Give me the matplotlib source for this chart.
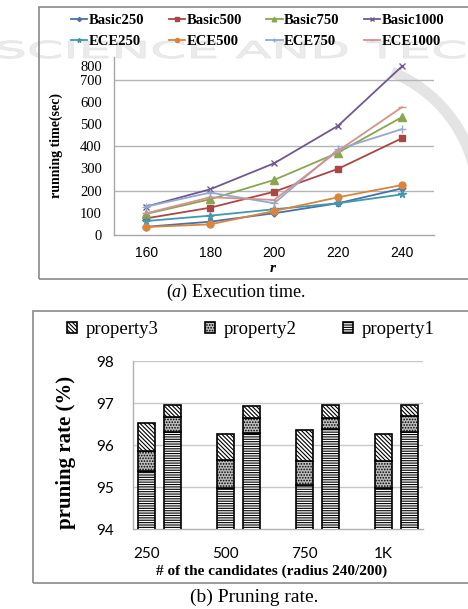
import numpy as np
import matplotlib
matplotlib.use("Agg")
import matplotlib.pyplot as plt
from matplotlib.patches import Rectangle, PathPatch, Arc
from matplotlib.textpath import TextPath
from matplotlib.font_manager import FontProperties
import matplotlib.transforms as mtransforms

plt.rcParams['mathtext.fontset'] = 'custom'
plt.rcParams['mathtext.rm'] = 'Liberation Serif'
plt.rcParams['mathtext.it'] = 'Liberation Serif:italic'
plt.rcParams['hatch.linewidth'] = 0.8

# ---------------- data: (a) execution time ----------------
r_values = [160, 180, 200, 220, 240]
basic250 = [37, 60, 98, 143, 210]
basic500 = [75, 123, 195, 298, 436]
basic750 = [95, 161, 248, 371, 531]
basic1000 = [128, 206, 323, 492, 760]
ece250 = [63, 87, 116, 143, 183]
ece500 = [36, 48, 108, 170, 225]
ece750 = [128, 191, 143, 386, 477]
ece1000 = [98, 170, 158, 379, 576]
series_names = ['Basic250', 'Basic500', 'Basic750', 'Basic1000',
                'ECE250', 'ECE500', 'ECE750', 'ECE1000']
time_yticks = [0, 100, 200, 300, 400, 500, 600, 700, 800]
time_grid = [200, 400, 700]

# ---------------- data: (b) pruning rate ----------------
candidates = ['250', '500', '750', '1K']
p1_r240 = [95.39, 94.98, 95.05, 94.98]
p2_r240 = [0.46, 0.67, 0.57, 0.64]
p3_r240 = [0.68, 0.62, 0.74, 0.65]
p1_r200 = [96.31, 96.30, 96.39, 96.32]
p2_r200 = [0.35, 0.34, 0.26, 0.37]
p3_r200 = [0.30, 0.28, 0.31, 0.27]
prune_yticks = [94, 95, 96, 97, 98]

W, H = 468, 609
fig = plt.figure(figsize=(W / 100, H / 100), dpi=100)
px = mtransforms.Affine2D().scale(1 / W, -1 / H).translate(0, 1) + fig.transFigure


def rect(l, t, r, b):
    return [l / W, 1 - b / H, (r - l) / W, (b - t) / H]


def ftext(x, y, s, **kw):
    kw.setdefault('ha', 'center')
    kw.setdefault('va', 'center')
    fig.text(x / W, 1 - y / H, s, **kw)


# faint background watermark of the source page
wm_prop = FontProperties(family='DejaVu Sans')
wm_full = TextPath((0, 0), 'SCIENCE AND TECHNOLOGY', size=10, prop=wm_prop)
wm_pre = TextPath((0, 0), 'SCIENCE AND ', size=10, prop=wm_prop)
cap = TextPath((0, 0), 'E', size=10, prop=wm_prop).get_extents().height
x0, t_start = -6.0, 347.0
sx = (t_start - x0) / wm_pre.get_extents().x1
sy = 17.0 / cap
wm_tr = mtransforms.Affine2D().scale(sx, -sy).translate(x0, 58) + px
fig.patches.append(PathPatch(wm_full, transform=wm_tr, facecolor='#ebebeb',
                             edgecolor='#e3e3e3', lw=0.5, zorder=-2))
arc = Arc((340, 200), 276, 276, theta1=-68, theta2=-8, transform=px,
          color='#e4e4e4', lw=8, zorder=-2)
fig.patches.append(arc)

# frames
for (l, t, r, b) in [(39.3, 7.3, 470, 279), (33.3, 310.7, 470, 583.3)]:
    fig.patches.append(Rectangle((l / W, 1 - b / H), (r - l) / W, (b - t) / H,
                                 transform=fig.transFigure, fill=False,
                                 edgecolor='#8a8a8a', lw=1.2))

# ---------------- top chart ----------------
ax1 = fig.add_axes(rect(114.3, 57.4, 434, 235))
ax1.patch.set_visible(False)
styles = [
    (basic250, '#4572A7', 'D', 3.5),
    (basic500, '#AA4643', 's', 5),
    (basic750, '#89A54E', '^', 5.5),
    (basic1000, '#71588F', 'x', 5),
    (ece250, '#4198AF', '*', 5.5),
    (ece500, '#DB843D', 'o', 5),
    (ece750, '#93A9CF', '+', 6),
    (ece1000, '#D19392', '_', 6),
]
handles = []
for name, (vals, c, m, ms) in zip(series_names, styles):
    ln, = ax1.plot(r_values, vals, color=c, marker=m, markersize=ms, lw=1.3,
                   markeredgewidth=1.0, label=name, zorder=3)
    handles.append(ln)
ax1.set_xlim(150, 250)
ax1.set_ylim(0, 800)
ax1.set_xticks(r_values)
ax1.set_yticks(time_yticks)
for lv in time_grid:
    ax1.axhline(lv, color='#b5b5b5', lw=1.0, zorder=0)
for s in ['top', 'right']:
    ax1.spines[s].set_visible(False)
for s in ['left', 'bottom']:
    ax1.spines[s].set_color('#a8a8a8')
    ax1.spines[s].set_linewidth(1.0)
ax1.tick_params(axis='both', length=0)
ax1.tick_params(axis='y', pad=9)
ax1.tick_params(axis='x', pad=8)
for lab in ax1.get_yticklabels():
    lab.set_fontfamily('Liberation Serif')
    lab.set_fontsize(10.5)
for lab in ax1.get_xticklabels():
    lab.set_fontfamily('Liberation Sans')
    lab.set_fontsize(10)
# the top label sits a bit lower in the reference
top_lab = ax1.get_yticklabels()[-1]
top_lab.set_transform(top_lab.get_transform() +
                      mtransforms.ScaledTranslation(0, -9 / 100, fig.dpi_scale_trans))

order = [0, 4, 1, 5, 2, 6, 3, 7]
fig.legend([handles[i] for i in order], [series_names[i] for i in order],
           ncol=4, loc='upper left', bbox_to_anchor=(71 / W, 1 - 14 / H),
           frameon=False, prop={'family': 'Liberation Serif', 'weight': 'bold', 'size': 10.5},
           handlelength=1.1, handletextpad=0.1, columnspacing=1.7,
           labelspacing=0.5, borderpad=0, borderaxespad=0, markerscale=0.6)

ftext(56, 146, 'running time(sec)', rotation=90, family='Liberation Serif',
      weight='bold', size=10)
ftext(273, 268, 'r', family='Liberation Serif', weight='bold', style='italic', size=11)
ftext(236, 292, r'($\mathit{a}$) Execution time.', family='Liberation Serif', size=13)

# ---------------- bottom chart ----------------
ax2 = fig.add_axes(rect(133.3, 361, 423, 529.3))
x = np.arange(len(candidates))
bw = 0.215
offset = 0.33
kw = dict(edgecolor='black', linewidth=1.2, zorder=3)
b1 = None
for xs, p1, p2, p3 in [(x, p1_r240, p2_r240, p3_r240), (x + offset, p1_r200, p2_r200, p3_r200)]:
    p1 = np.array(p1)
    p2 = np.array(p2)
    p3 = np.array(p3)
    h1 = ax2.bar(xs, p1, bw, color='white', hatch='-------', **kw)
    h2 = ax2.bar(xs, p2, bw, bottom=p1, color='#bdbdbd', hatch='......', **kw)
    h3 = ax2.bar(xs, p3, bw, bottom=p1 + p2, color='white',
                 hatch='\\\\\\\\\\\\\\\\', **kw)
    if b1 is None:
        b1 = (h1, h2, h3)
ax2.set_ylim(94, 98)
ax2.set_xlim(-0.17, 3.5)
ax2.set_yticks(prune_yticks)
ax2.set_xticks(x)
ax2.set_xticklabels(candidates)
for lv in prune_yticks[1:]:
    ax2.axhline(lv, color='#c8c8c8', lw=1.0, zorder=0)
for s in ['top', 'right']:
    ax2.spines[s].set_visible(False)
for s in ['left', 'bottom']:
    ax2.spines[s].set_color('#b0b0b0')
    ax2.spines[s].set_linewidth(1.0)
ax2.spines['bottom'].set_zorder(0)
ax2.tick_params(axis='both', length=0, labelsize=11)
ax2.tick_params(axis='y', pad=14)
ax2.tick_params(axis='x', pad=13)
for lab in ax2.get_yticklabels() + ax2.get_xticklabels():
    lab.set_fontfamily('Lato')

fig.legend([b1[2], b1[1], b1[0]], ['property3', 'property2', 'property1'],
           ncol=3, loc='upper left', bbox_to_anchor=(67 / W, 1 - 321 / H),
           frameon=False, prop={'family': 'Liberation Serif', 'size': 13.5},
           handlelength=0.52, handleheight=0.52, handletextpad=0.5,
           columnspacing=2.45, borderpad=0, borderaxespad=0)

ftext(66, 452, 'pruning rate (%)', rotation=90, family='Liberation Serif',
      weight='bold', size=15)
ftext(272, 571, '# of the candidates (radius 240/200)', family='Liberation Serif',
      weight='bold', size=11)
ftext(254, 597, '(b) Pruning rate.', family='Liberation Serif', size=14)

fig.savefig('out.png', dpi=100)
